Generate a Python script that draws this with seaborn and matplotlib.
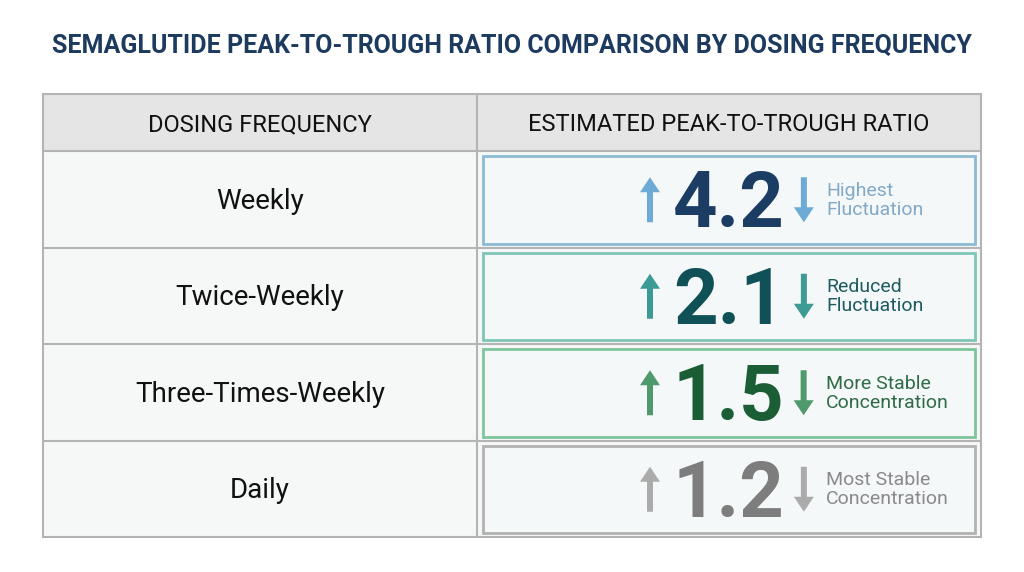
import numpy as np
import pandas as pd
import matplotlib
matplotlib.use('Agg')
import matplotlib.pyplot as plt
import seaborn as sns
from matplotlib.patches import Rectangle, FancyArrow

# veri
frequencies = ["Weekly", "Twice-Weekly", "Three-Times-Weekly", "Daily"]
ratios = [4.2, 2.1, 1.5, 1.2]
notes = ["Highest\nFluctuation", "Reduced\nFluctuation",
         "More Stable\nConcentration", "Most Stable\nConcentration"]

# renkler (sayi, ok, aciklama, kutu cercevesi)
num_colors = ["#1b3d63", "#0f5156", "#1b5e36", "#7d7d7d"]
arrow_colors = ["#6eaad6", "#3d9b95", "#4f9a6c", "#ababab"]
note_colors = ["#82a9c6", "#1e5b60", "#2f6b46", "#8a8a8a"]
box_colors = ["#8bbbd2", "#7fc6b9", "#7fc59c", "#b2b2b2"]

sns.set_theme(style="white")
plt.rcParams['font.family'] = ['Roboto', 'DejaVu Sans']

fig = plt.figure(figsize=(10.24, 5.72), dpi=100)
fig.patch.set_facecolor("white")
ax = fig.add_axes([0, 0, 1, 1])
ax.set_xlim(0, 1024)
ax.set_ylim(572, 0)
ax.axis("off")

ax.text(512, 46, "SEMAGLUTIDE PEAK-TO-TROUGH RATIO COMPARISON BY DOSING FREQUENCY",
        ha="center", va="center", fontsize=18, fontweight="bold", color="#1c3b5e")

# tablo iskeleti
left, mid, right = 43, 477, 981
top, head_bot, bottom = 94, 151, 537
row_h = (bottom - head_bot) / len(frequencies)
grid = "#b4b4b4"

ax.add_patch(Rectangle((left, top), right - left, head_bot - top,
                       facecolor="#e5e5e5", edgecolor="none"))
ax.add_patch(Rectangle((left, head_bot), right - left, bottom - head_bot,
                       facecolor="#f6f7f7", edgecolor="none"))
for i in range(len(frequencies)):
    y = head_bot + i * row_h
    ax.plot([left, right], [y, y], color=grid, lw=1.5)
ax.plot([mid, mid], [top, bottom], color=grid, lw=1.5)
ax.add_patch(Rectangle((left, top), right - left, bottom - top,
                       facecolor="none", edgecolor=grid, lw=1.5))

ax.text((left + mid) / 2, (top + head_bot) / 2 + 2, "DOSING FREQUENCY",
        ha="center", va="center", fontsize=17, color="#111111")
ax.text((mid + right) / 2, (top + head_bot) / 2 + 2, "ESTIMATED PEAK-TO-TROUGH RATIO",
        ha="center", va="center", fontsize=17, color="#111111")

fig.canvas.draw()
renderer = fig.canvas.get_renderer()
inv = ax.transData.inverted()

for i, (freq, val, note) in enumerate(zip(frequencies, ratios, notes)):
    y0 = head_bot + i * row_h
    yc = y0 + row_h / 2
    ax.text((left + mid) / 2, yc + 2, freq, ha="center", va="center",
            fontsize=20, color="#111111")
    ax.add_patch(Rectangle((mid + 6, y0 + 5), right - mid - 12, row_h - 9,
                           facecolor="#f5f8f9", edgecolor=box_colors[i], lw=2))
    num = ax.text(673, yc + 7, f"{val:.1f}", ha="left", va="center",
                  fontsize=56, fontweight="bold", color=num_colors[i])
    bb = num.get_window_extent(renderer)
    x_right = inv.transform((bb.x1, bb.y1))[0]
    # yukari ve asagi oklar
    ax.add_patch(FancyArrow(650, yc + 23, 0, -45, width=6, head_width=20,
                            head_length=15, length_includes_head=True,
                            color=arrow_colors[i], lw=0))
    ax.add_patch(FancyArrow(x_right + 19, yc - 22, 0, 45, width=6, head_width=20,
                            head_length=15, length_includes_head=True,
                            color=arrow_colors[i], lw=0))
    ax.text(x_right + 41, yc + 1, note, ha="left", va="center",
            fontsize=14, color=note_colors[i], linespacing=1.05)

fig.savefig("out.png", dpi=100, facecolor="white")
